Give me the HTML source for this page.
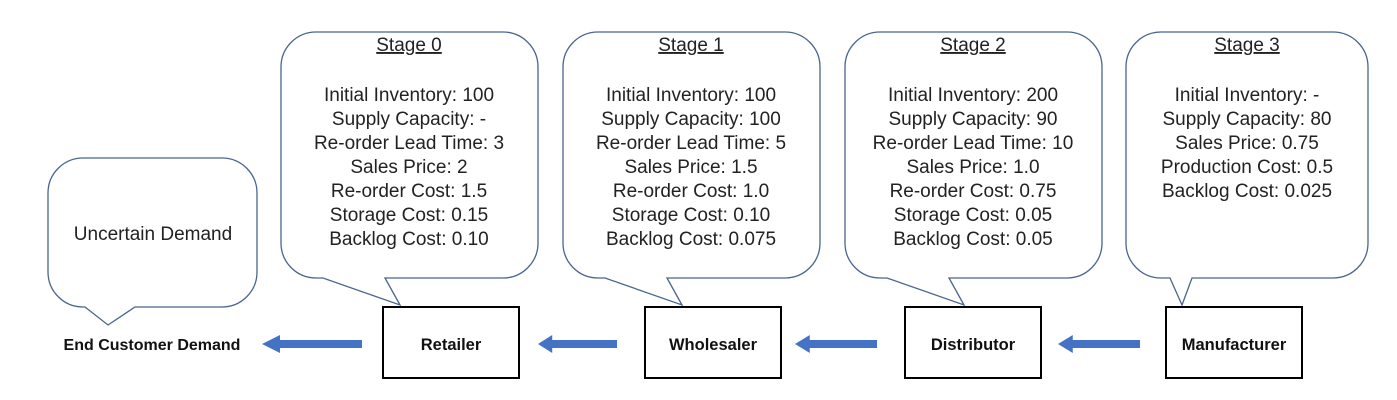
<!DOCTYPE html>
<html><head><style>body{margin:0;background:#fff}svg{display:block}</style></head><body>
<svg width="1397" height="400" viewBox="0 0 1397 400" xmlns="http://www.w3.org/2000/svg" font-family="'Liberation Sans',sans-serif">
<defs>
<g id="bub">
<path d="M35,0 H222 A35,35 0 0 1 257,35 V211 A35,35 0 0 1 222,246 H104 L119,273 L42,246 H35 A35,35 0 0 1 0,211 V35 A35,35 0 0 1 35,0 Z" fill="#fff" stroke="#4a6590" stroke-width="1.3"/>
</g>
<g id="arr"><polygon points="0,0 18,-9 18,-4 100,-4 100,4 18,4 18,9" fill="#4472c4"/></g>
</defs>
<path d="M83,158 H222 A35,35 0 0 1 257,193 V272 A35,35 0 0 1 222,307 H135 L108,325 L85,307 H83 A35,35 0 0 1 48,272 V193 A35,35 0 0 1 83,158 Z" fill="#fff" stroke="#4a6590" stroke-width="1.3"/>
<text x="153" y="240" font-size="19" text-anchor="middle" fill="#222">Uncertain Demand</text>
<use href="#bub" x="281" y="32"/>
<use href="#bub" x="563" y="32"/>
<use href="#bub" x="845" y="32"/>
<path d="M1161,32 H1333 A35,35 0 0 1 1368,67 V243 A35,35 0 0 1 1333,278 H1192 L1182,305 L1170,278 H1161 A35,35 0 0 1 1126,243 V67 A35,35 0 0 1 1161,32 Z" fill="#fff" stroke="#4a6590" stroke-width="1.3"/>
<g font-size="19" text-anchor="middle" fill="#222">
<text x="409" y="51" text-decoration="underline">Stage 0</text>
<text x="409" y="101">Initial Inventory: 100</text>
<text x="409" y="125">Supply Capacity: -</text>
<text x="409" y="149">Re-order Lead Time: 3</text>
<text x="409" y="173">Sales Price: 2</text>
<text x="409" y="197">Re-order Cost: 1.5</text>
<text x="409" y="221">Storage Cost: 0.15</text>
<text x="409" y="245">Backlog Cost: 0.10</text>
<text x="691" y="51" text-decoration="underline">Stage 1</text>
<text x="691" y="101">Initial Inventory: 100</text>
<text x="691" y="125">Supply Capacity: 100</text>
<text x="691" y="149">Re-order Lead Time: 5</text>
<text x="691" y="173">Sales Price: 1.5</text>
<text x="691" y="197">Re-order Cost: 1.0</text>
<text x="691" y="221">Storage Cost: 0.10</text>
<text x="691" y="245">Backlog Cost: 0.075</text>
<text x="973" y="51" text-decoration="underline">Stage 2</text>
<text x="973" y="101">Initial Inventory: 200</text>
<text x="973" y="125">Supply Capacity: 90</text>
<text x="973" y="149">Re-order Lead Time: 10</text>
<text x="973" y="173">Sales Price: 1.0</text>
<text x="973" y="197">Re-order Cost: 0.75</text>
<text x="973" y="221">Storage Cost: 0.05</text>
<text x="973" y="245">Backlog Cost: 0.05</text>
<text x="1247" y="51" text-decoration="underline">Stage 3</text>
<text x="1247" y="101">Initial Inventory: -</text>
<text x="1247" y="125">Supply Capacity: 80</text>
<text x="1247" y="149">Sales Price: 0.75</text>
<text x="1247" y="173">Production Cost: 0.5</text>
<text x="1247" y="197">Backlog Cost: 0.025</text>
</g>
<g fill="#fff" stroke="#000" stroke-width="2">
<rect x="383" y="307" width="136" height="71"/>
<rect x="645" y="307" width="136" height="71"/>
<rect x="905" y="307" width="136" height="71"/>
<rect x="1166" y="307" width="136" height="71"/>
</g>
<g font-size="16.5" font-weight="bold" text-anchor="middle" fill="#111">
<text x="451" y="350">Retailer</text>
<text x="713" y="350">Wholesaler</text>
<text x="973" y="350">Distributor</text>
<text x="1234" y="350">Manufacturer</text>
<text x="152" y="350" font-size="16">End Customer Demand</text>
</g>
<use href="#arr" x="262" y="344"/>
<use href="#arr" x="538" y="344" transform="translate(538,344) scale(0.79,1) translate(-538,-344)"/>
<use href="#arr" x="795" y="344" transform="translate(795,344) scale(0.82,1) translate(-795,-344)"/>
<use href="#arr" x="1058" y="344" transform="translate(1058,344) scale(0.82,1) translate(-1058,-344)"/>
</svg>
</body></html>
